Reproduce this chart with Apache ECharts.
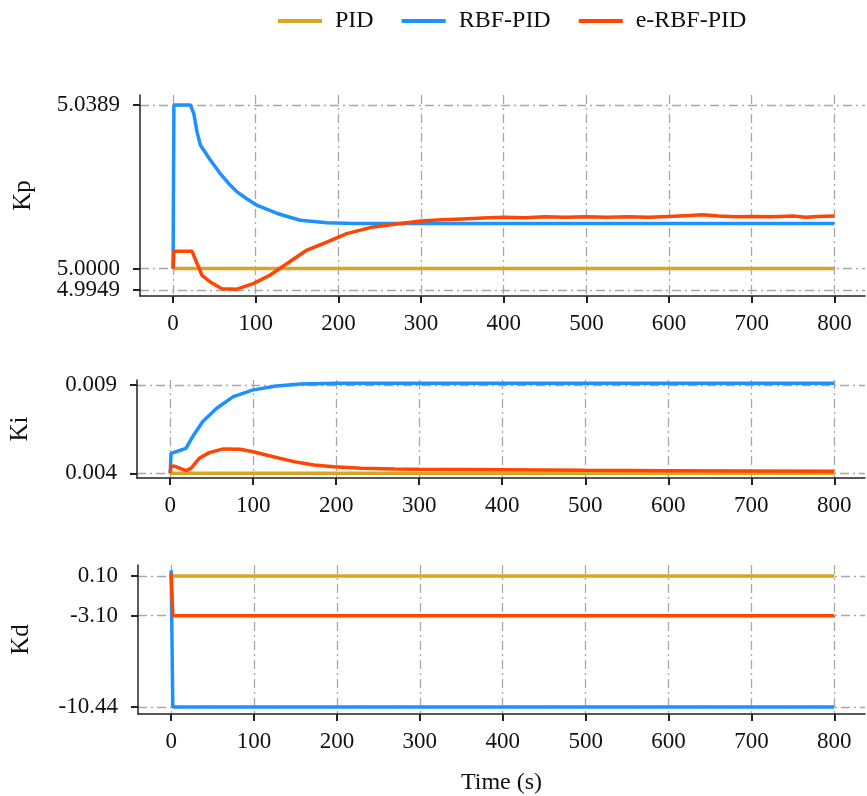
<!DOCTYPE html>
<html>
<head>
<meta charset="utf-8">
<script src="https://cdn.jsdelivr.net/npm/echarts@6/dist/echarts.min.js"></script>
<style>
  html, body { margin: 0; padding: 0; background: #fff; }
  #echarts_container { width: 867px; height: 796px; }
</style>
</head>
<body>
<div id="echarts_container"></div>
<script>
var chartDom = document.getElementById('echarts_container');
var myChart = echarts.init(chartDom);
var option;

// series names
const names = ['PID', 'RBF-PID', 'e-RBF-PID']
const colors = ['#DAA520', '#1E90FF', '#FF4500']

// x ticks (time, s)
const timeTicks = [0, 100, 200, 300, 400, 500, 600, 700, 800]

// Kp  [t, value]
const kpTicks = [4.9949, 5.0000, 5.0389]
const kpPid = [[0, 5.0], [800, 5.0]]
const kpRbf = [[0, 5.0], [1, 5.0389], [21, 5.0389], [25, 5.0369], [29, 5.0325], [33, 5.0294], [45, 5.0258],
  [57, 5.0226], [67, 5.0203], [77, 5.0183], [89, 5.0166], [101, 5.0151], [126, 5.0131], [154, 5.0115],
  [186, 5.0109], [220, 5.0107], [300, 5.0107], [500, 5.0107], [800, 5.0107]]
const kpErbf = [[0, 5.0], [1, 5.0041], [23, 5.0041], [29, 5.0012], [35, 4.9984], [45, 4.9968],
  [59, 4.9952], [77, 4.9951], [97, 4.9964], [117, 4.9984], [138, 5.0012], [162, 5.0044],
  [186, 5.0063], [210, 5.0083], [242, 5.0099], [275, 5.0107], [300, 5.0113], [325, 5.0116],
  [350, 5.0118], [375, 5.0120], [400, 5.0122], [425, 5.0121], [450, 5.0123], [475, 5.0122],
  [500, 5.0123], [525, 5.0122], [550, 5.0123], [575, 5.0122], [600, 5.0124], [625, 5.0126],
  [640, 5.0128], [660, 5.0125], [680, 5.0123], [700, 5.0124], [725, 5.0123], [750, 5.0125],
  [765, 5.0122], [780, 5.0124], [800, 5.0125]]

// Ki
const kiTicks = [0.004, 0.009]
const kiPid = [[0, 0.004], [800, 0.004]]
const kiRbf = [[0, 0.004], [1, 0.00513], [7, 0.00522], [19, 0.00541], [27, 0.00607], [39, 0.00692],
  [56, 0.00768], [76, 0.00834], [100, 0.00872], [128, 0.00894], [157, 0.00905], [200, 0.00909],
  [300, 0.0091], [500, 0.0091], [800, 0.0091]]
const kiErbf = [[0, 0.004], [1, 0.00441], [5, 0.0044], [19, 0.00415], [25, 0.00428], [35, 0.00485],
  [47, 0.00517], [64, 0.00538], [84, 0.00536], [100, 0.00522], [124, 0.00494], [149, 0.00466],
  [173, 0.00447], [197, 0.00437], [230, 0.00428], [270, 0.00424], [300, 0.00423], [400, 0.0042],
  [500, 0.00417], [600, 0.00415], [700, 0.00413], [800, 0.00411]]

// Kd
const kdTicks = [-10.44, -3.10, 0.10]
const kdPid = [[0, 0.10], [800, 0.10]]
const kdRbf = [[0, 0.55], [2, -10.44], [800, -10.44]]
const kdErbf = [[0, 0.31], [2, -3.10], [800, -3.10]]

const serif = 'Liberation Serif, Times New Roman, serif'
const gridDash = [9, 4, 2, 4]

function xAx(idx, showName) {
  return {
    type: 'value', gridIndex: idx, min: -40, max: 837,
    axisLine: { onZero: false, lineStyle: { color: '#222', width: 1.5 } },
    axisTick: { customValues: timeTicks, length: 7, lineStyle: { color: '#222', width: 2 } },
    axisLabel: { customValues: timeTicks, margin: 16, fontFamily: serif, fontSize: 23, color: '#111' },
    splitLine: { show: true, lineStyle: { color: '#a8a8a8', width: 1.3, type: gridDash } },
    name: showName ? 'Time (s)' : '', nameLocation: 'middle', nameGap: 57,
    nameTextStyle: { fontFamily: serif, fontSize: 24, color: '#111' }
  }
}

function yAx(idx, name, min, max, ticks, digits) {
  return {
    type: 'value', gridIndex: idx, min: min, max: max, position: 'left',
    name: name, nameLocation: 'middle', nameGap: 104,
    nameTextStyle: { fontFamily: serif, fontSize: 25, color: '#111' },
    axisLine: { show: true, onZero: false, lineStyle: { color: '#222', width: 1.5 } },
    axisTick: { show: true, customValues: ticks, length: 7, lineStyle: { color: '#222', width: 2 } },
    axisLabel: {
      customValues: ticks, margin: 20, fontFamily: serif, fontSize: 23, color: '#111',
      formatter: v => v.toFixed(digits)
    },
    splitLine: { show: true, lineStyle: { color: '#a8a8a8', width: 1.3, type: gridDash } }
  }
}

function line(name, xi, data) {
  let i = names.indexOf(name)
  return {
    name: name, type: 'line', xAxisIndex: xi, yAxisIndex: xi, data: data,
    symbol: 'none', lineStyle: { width: 3.5, color: colors[i] }, itemStyle: { color: colors[i] },
    animation: false
  }
}

// Kp bottom label sits too close to 5.0000, so it lives on its own overlay axis
let kpLow = yAx(0, '', 4.99347, 5.04128, kpTicks.slice(0, 1), 4)
kpLow.axisLine.show = false

option = {
  backgroundColor: '#fff',
  legend: {
    data: names, left: 273, top: 4, icon: 'rect', itemWidth: 44, itemHeight: 4, itemGap: 28,
    textStyle: { fontFamily: serif, fontSize: 24, color: '#111', padding: [0, 0, 0, 8] }
  },
  grid: [
    { left: 140, top: 95, right: 2, height: 201 },
    { left: 137, top: 380, right: 2, height: 98 },
    { left: 138, top: 565, right: 2, height: 149 }
  ],
  xAxis: [xAx(0, false), xAx(1, false), xAx(2, true)],
  yAxis: [
    yAx(0, 'Kp', 4.99347, 5.04128, kpTicks.slice(1), 4),
    yAx(1, 'Ki', 0.003734, 0.00928, kiTicks, 3),
    yAx(2, 'Kd', -11.0, 0.98, kdTicks, 2),
    kpLow
  ],
  series: [
    line('PID', 0, kpPid), line('RBF-PID', 0, kpRbf), line('e-RBF-PID', 0, kpErbf),
    line('PID', 1, kiPid), line('RBF-PID', 1, kiRbf), line('e-RBF-PID', 1, kiErbf),
    line('PID', 2, kdPid), line('RBF-PID', 2, kdRbf), line('e-RBF-PID', 2, kdErbf)
  ]
};

option && myChart.setOption(option);
</script>
</body>
</html>
